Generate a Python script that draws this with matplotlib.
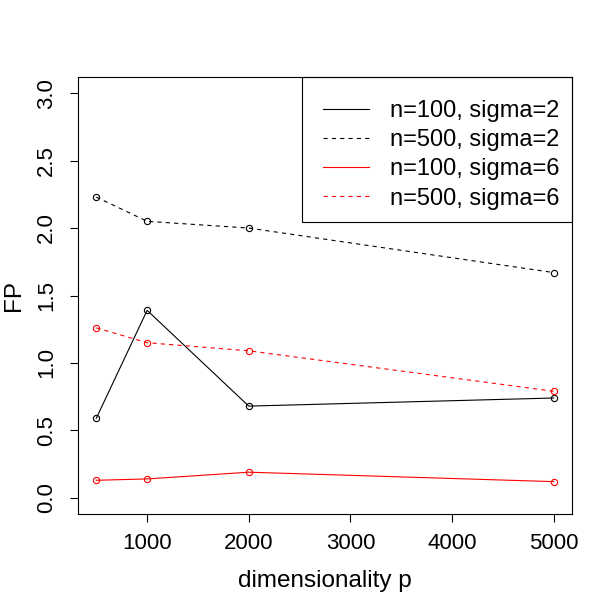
import matplotlib
matplotlib.use("Agg")
import matplotlib.pyplot as plt
from matplotlib.patches import Rectangle

plt.rcParams['font.family'] = ['Liberation Sans', 'DejaVu Sans']
plt.rcParams['lines.scale_dashes'] = False

p = [500, 1000, 2000, 5000]
fp_n100_s2 = [0.59, 1.39, 0.68, 0.74]
fp_n500_s2 = [2.23, 2.05, 2.00, 1.67]
fp_n100_s6 = [0.13, 0.14, 0.19, 0.12]
fp_n500_s6 = [1.26, 1.15, 1.09, 0.79]
labels = ["n=100, sigma=2", "n=500, sigma=2", "n=100, sigma=6", "n=500, sigma=6"]
xticks = [1000, 2000, 3000, 4000, 5000]
yticks = [0.0, 0.5, 1.0, 1.5, 2.0, 2.5, 3.0]

W = 612.0
fig = plt.figure(figsize=(6.12, 6.12), dpi=100)
ax_l, ax_r, ax_t, ax_b = 78, 572, 77, 514
ax = fig.add_axes([ax_l/W, 1-ax_b/W, (ax_r-ax_l)/W, (ax_b-ax_t)/W])
aw, ah = ax_r - ax_l, ax_b - ax_t

series = [(fp_n100_s2, 'black', '-'), (fp_n500_s2, 'black', '--'),
          (fp_n100_s6, 'red', '-'), (fp_n500_s6, 'red', '--')]
handles = []
for (vals, col, ls), lab in zip(series, labels):
    style = (0, (3, 3)) if ls == '--' else '-'
    ax.plot(p, vals, linestyle=style, color=col, lw=0.8, marker='o', ms=4.5,
            mfc='none', mec=col, mew=0.8)
    h, = ax.plot([], [], color=col, lw=0.8, linestyle=style)
    handles.append(h)

ax.set_xlim(320, 5180)
ax.set_ylim(-0.12, 3.12)
ax.set_xticks(xticks)
ax.set_xticklabels([str(v) for v in xticks])
ax.set_yticks(yticks)
ax.set_yticklabels([f"{v:.1f}" for v in yticks], rotation=90, va='center')
ax.tick_params(axis='both', labelsize=16, length=6, width=0.8, direction='out')
ax.tick_params(axis='x', pad=8)
ax.tick_params(axis='y', pad=9)
for s in ax.spines.values():
    s.set_linewidth(0.8)

ax.set_xlabel("dimensionality p", fontsize=17.5, labelpad=11)
ax.set_ylabel("FP", fontsize=17.5, labelpad=8)

# legend box (drawn as frame) and entries
box_l, box_b = 302, 222
ax.add_patch(Rectangle(((box_l-ax_l)/aw, (ax_b-box_b)/ah), (ax_r-box_l)/aw, (box_b-ax_t)/ah,
                       transform=ax.transAxes, fill=False, edgecolor='black', lw=0.8,
                       clip_on=False, zorder=5))
leg = ax.legend(handles, labels, loc='upper right', fontsize=17, frameon=False,
                bbox_to_anchor=(1.0, 1 - 11/ah), borderaxespad=0,
                handlelength=1.95, handletextpad=0.9, labelspacing=0.3,
                borderpad=0.52)

fig.savefig("out.png", dpi=100, facecolor='white')
